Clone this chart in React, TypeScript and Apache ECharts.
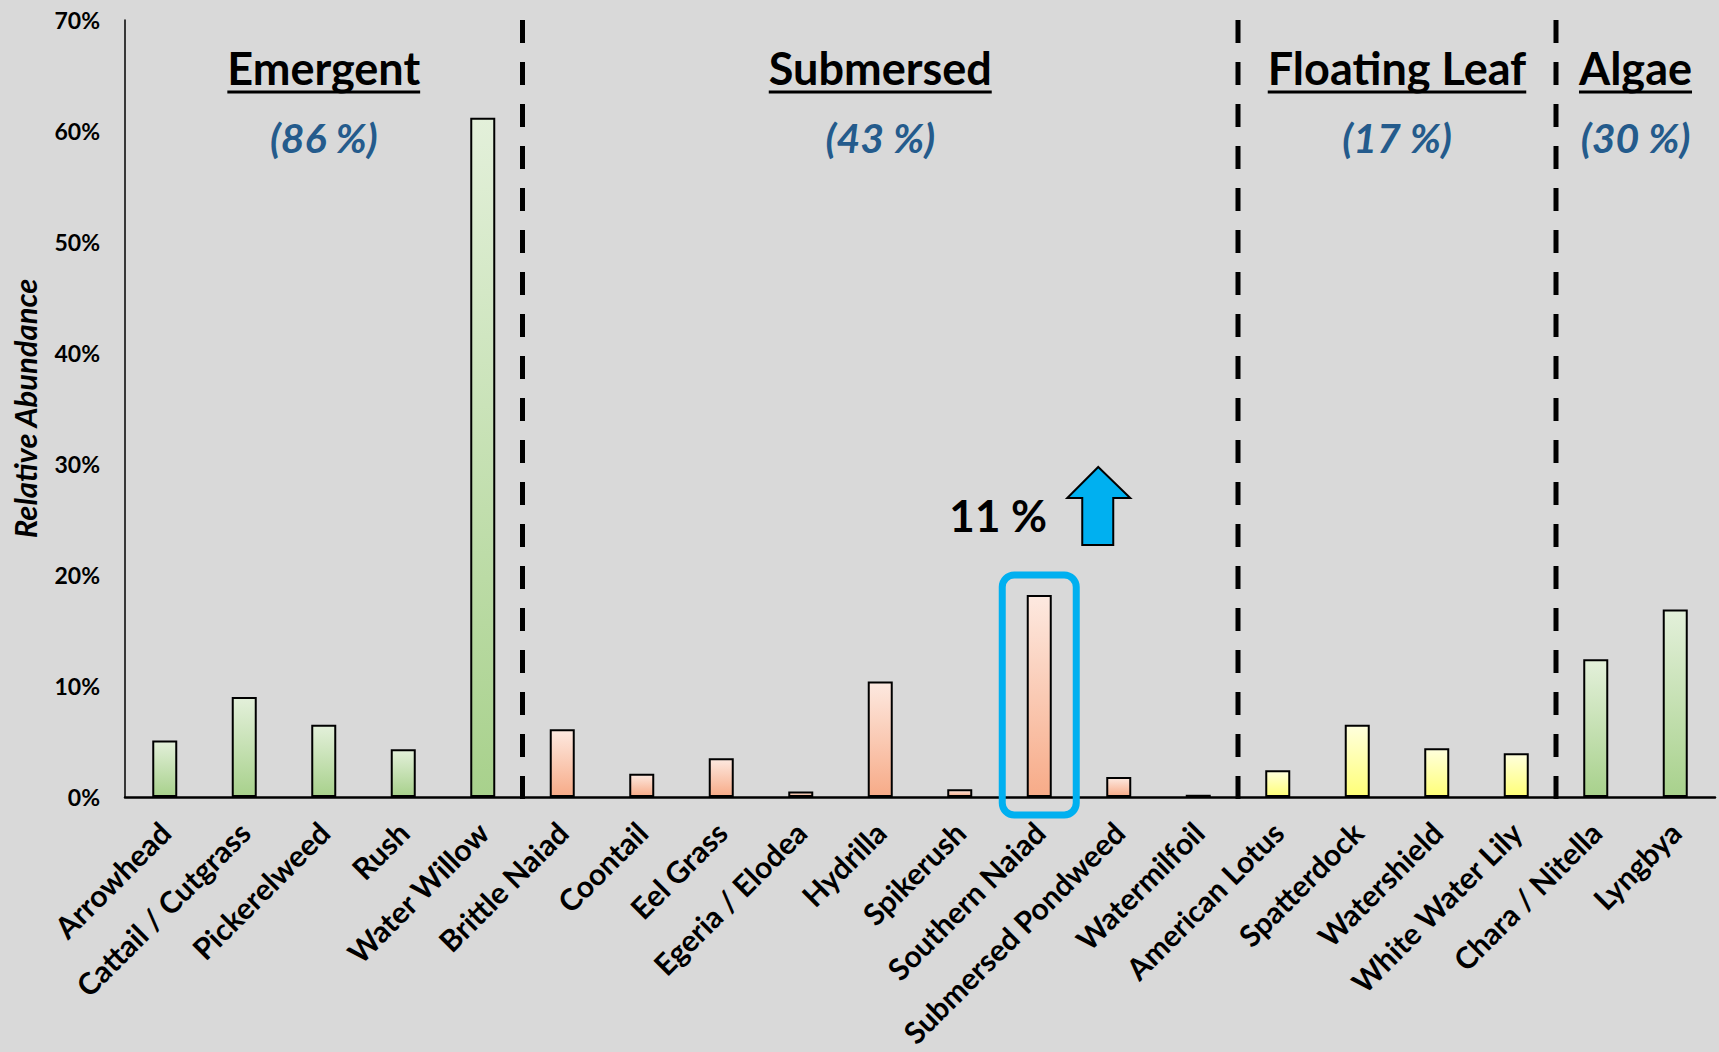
import React, { useEffect, useRef } from "react";
import * as echarts from "echarts";

const categories = [
  "Arrowhead",
  "Cattail / Cutgrass",
  "Pickerelweed",
  "Rush",
  "Water Willow",
  "Brittle Naiad",
  "Coontail",
  "Eel Grass",
  "Egeria / Elodea",
  "Hydrilla",
  "Spikerush",
  "Southern Naiad",
  "Submersed Pondweed",
  "Watermilfoil",
  "American Lotus",
  "Spatterdock",
  "Watershield",
  "White Water Lily",
  "Chara / Nitella",
  "Lyngbya",
];
const values = [5.1, 9.0, 6.5, 4.3, 61.2, 6.1, 2.1, 3.5, 0.5, 10.4, 0.7, 18.2, 1.8, 0.2, 2.4, 6.5, 4.4, 3.95, 12.4, 16.9];

const groupNames = ["Emergent", "Submersed", "Floating Leaf", "Algae"];
const groupShares = ["(86 %)", "(43 %)", "(17 %)", "(30 %)"];
const groupStart = [0, 5, 14, 18];
const groupEnd = [4, 13, 17, 19];

const yMin = 0;
const yMax = 70;
const yInterval = 10;

const highlightIndex = 11;
const highlightNote = "11 %";

const FONT = "Lato, 'Noto Sans', sans-serif";
const groupColors = [
  ["#e3f0da", "#a8d18c"],
  ["#fde9e0", "#f7ab88"],
  ["#ffffdd", "#ffff78"],
  ["#e3f0da", "#a8d18c"],
];

function groupOf(i: number) {
  for (let g = 0; g < groupStart.length; g++) {
    if (i >= groupStart[g] && i <= groupEnd[g]) return g;
  }
  return 0;
}

function measure(text: string, font: string) {
  const c = document.createElement("canvas");
  const ctx = c.getContext("2d");
  if (!ctx) return text.length * 20;
  ctx.font = font;
  return ctx.measureText(text).width;
}

export default function App() {
  const ref = useRef<HTMLDivElement>(null);

  useEffect(() => {
    if (!ref.current) return;
    const chart = echarts.init(ref.current, undefined, { renderer: "svg" });
    chart.setOption({
      animation: false,
      backgroundColor: "#d9d9d9",
      textStyle: { fontFamily: FONT },
      grid: { left: 125, right: 4, top: 20, bottom: 255, containLabel: false },
      xAxis: {
        type: "category",
        data: categories,
        axisLine: { show: true, lineStyle: { color: "#000", width: 2.5 } },
        axisTick: { show: false },
        axisLabel: {
          interval: 0,
          rotate: 45,
          margin: 30,
          color: "#000",
          fontWeight: "bold",
          fontSize: 30,
          fontFamily: FONT,
        },
        splitLine: { show: false },
      },
      yAxis: {
        type: "value",
        min: yMin,
        max: yMax,
        interval: yInterval,
        axisLine: { show: true, lineStyle: { color: "#000", width: 1.5 } },
        axisTick: { show: false },
        splitLine: { show: false },
        axisLabel: {
          formatter: "{value}%",
          color: "#000",
          fontWeight: "bold",
          fontSize: 23,
          margin: 25,
          fontFamily: FONT,
        },
      },
      series: [
        {
          type: "bar",
          barWidth: 25,
          data: values.map((v, i) => {
            const c = groupColors[groupOf(i)];
            return {
              value: v,
              itemStyle: {
                color: new echarts.graphic.LinearGradient(0, 0, 0, 1, [
                  { offset: 0, color: c[0] },
                  { offset: 1, color: c[1] },
                ]),
                borderColor: "#000",
                borderWidth: 2,
              },
            };
          }),
        },
      ],
    });

    const px = (i: number) => chart.convertToPixel({ xAxisIndex: 0 }, categories[i]) as number;
    const py = (v: number) => chart.convertToPixel({ yAxisIndex: 0 }, v) as number;
    const band = px(1) - px(0);
    const y0 = py(yMin);
    const yTop = py(yMax);

    const elements: any[] = [];

    // group dividers
    groupStart.slice(1).forEach((b) => {
      const x = px(b) - band / 2;
      elements.push({
        type: "line",
        shape: { x1: x, y1: yTop, x2: x, y2: y0 + 4 },
        style: { stroke: "#000", lineWidth: 5, lineDash: [23, 19] },
        z: 10,
      });
    });

    // group titles
    const titleFont = `bold 45px ${FONT}`;
    groupNames.forEach((name, g) => {
      const cx = (px(groupStart[g]) + px(groupEnd[g])) / 2;
      const w = measure(name, titleFont);
      elements.push({
        type: "text",
        x: cx,
        y: 68,
        style: {
          text: name,
          fill: "#000",
          font: titleFont,
          textAlign: "center",
          textVerticalAlign: "middle",
        },
        z: 10,
      });
      elements.push({
        type: "line",
        shape: { x1: cx - w / 2, y1: 92, x2: cx + w / 2, y2: 92 },
        style: { stroke: "#000", lineWidth: 3 },
        z: 10,
      });
      elements.push({
        type: "text",
        x: cx,
        y: 137,
        style: {
          text: groupShares[g],
          fill: "#245b8c",
          font: `italic bold 41px ${FONT}`,
          textAlign: "center",
          textVerticalAlign: "middle",
        },
        z: 10,
      });
    });

    // y axis title
    elements.push({
      type: "text",
      x: 25,
      y: (y0 + yTop) / 2,
      rotation: Math.PI / 2,
      style: {
        text: "Relative Abundance",
        fill: "#000",
        font: `italic bold 31px ${FONT}`,
        textAlign: "center",
        textVerticalAlign: "middle",
      },
      z: 10,
    });

    // highlight box, arrow, note
    const hx = px(highlightIndex);
    const ht = py(values[highlightIndex]);
    elements.push({
      type: "rect",
      shape: { x: hx - 37, y: ht - 20, width: 74, height: y0 + 18 - (ht - 20), r: 12 },
      style: { fill: "none", stroke: "#00b0f0", lineWidth: 7 },
      z: 20,
    });
    elements.push({
      type: "polygon",
      shape: {
        points: [
          [hx + 59, ht - 128],
          [hx + 91, ht - 97],
          [hx + 74, ht - 97],
          [hx + 74, ht - 50],
          [hx + 43, ht - 50],
          [hx + 43, ht - 97],
          [hx + 28, ht - 97],
        ],
      },
      style: { fill: "#00b0f0", stroke: "#000", lineWidth: 2 },
      z: 20,
    });
    elements.push({
      type: "text",
      x: hx - 41,
      y: ht - 80,
      style: {
        text: highlightNote,
        fill: "#000",
        font: `bold 44px ${FONT}`,
        textAlign: "center",
        textVerticalAlign: "middle",
      },
      z: 20,
    });

    chart.setOption({ graphic: elements });

    return () => chart.dispose();
  }, []);

  return (
    <div
      ref={ref}
      style={{
        position: "fixed",
        left: 0,
        top: 0,
        width: 1719,
        height: 1052,
        background: "#d9d9d9",
      }}
    />
  );
}
